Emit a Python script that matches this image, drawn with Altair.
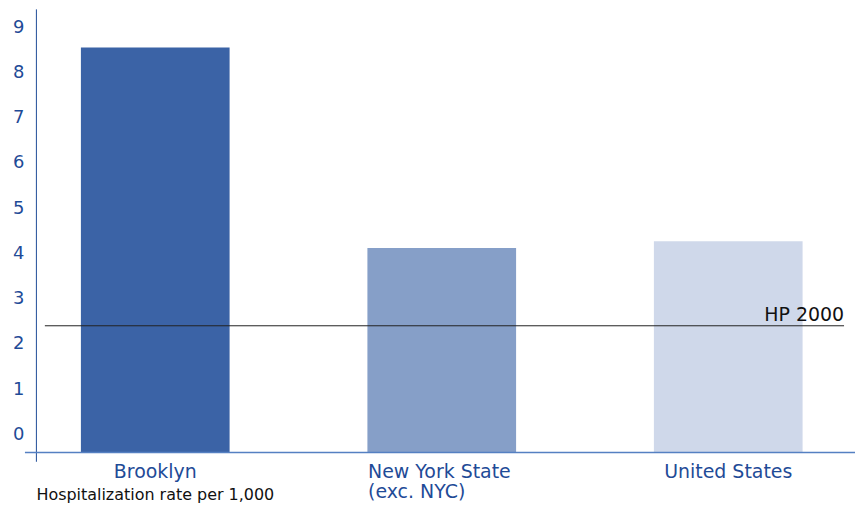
import altair as alt
import pandas as pd

categories = ["Brooklyn", "New York State (exc. NYC)", "United States"]
rates = [8.55, 4.12, 4.27]
bar_colors = ["#3b63a6", "#869fc8", "#cfd8ea"]
baseline = -0.4
hp_target = 2.4
hp_label = "HP 2000"
y_ticks = [0, 1, 2, 3, 4, 5, 6, 7, 8, 9]
axis_title = "Hospitalization rate per 1,000"

df = pd.DataFrame({"category": categories, "rate": rates, "base": [baseline] * len(categories)})
hp_df = pd.DataFrame({"label": [hp_label], "value": [hp_target]})

BLUE = "#1f4b97"
FONT = "DejaVu Sans"
W, H = 822, 454
NYS = "New York State (exc. NYC)"

x_enc = alt.X(
    "category:N",
    sort=categories,
    scale=alt.Scale(paddingInner=0.481, paddingOuter=0.17, align=0.462),
    axis=alt.Axis(
        title=None, domain=False, ticks=False, labelAngle=0,
        labelFont=FONT, labelFontSize=19, labelColor=BLUE,
        labelPadding=1, labelBaseline="top", labelLineHeight=20,
        labelAlign={"condition": {"test": f"datum.value == '{NYS}'", "value": "left"}, "value": "center"},
        labelOffset={"condition": {"test": f"datum.value == '{NYS}'", "value": -74}, "value": 0},
        labelExpr=f"datum.label == '{NYS}' ? ['New York State', '(exc. NYC)'] : datum.label",
    ),
)
y_scale = alt.Scale(domain=[-0.595, 9.405], nice=False, zero=False)

bars = alt.Chart(df).mark_bar().encode(
    x=x_enc,
    y=alt.Y(
        "rate:Q", scale=y_scale,
        axis=alt.Axis(
            values=y_ticks, grid=False, ticks=False, domainColor=BLUE, domainWidth=1,
            labelFont=FONT, labelFontSize=18, labelColor=BLUE, labelPadding=12,
            title=axis_title, titleAngle=0, titleAlign="left", titleBaseline="alphabetic",
            titleX=0, titleY=492, titleFont=FONT, titleFontSize=16, titleFontWeight="normal",
            titleColor="#111111",
        ),
    ),
    y2="base:Q",
    color=alt.Color("category:N", scale=alt.Scale(domain=categories, range=bar_colors), legend=None),
)

xline = alt.Chart(pd.DataFrame({"b": [baseline]})).mark_rule(color="#5580c2", strokeWidth=1.5).encode(
    y=alt.Y("b:Q", scale=y_scale), x=alt.value(-11), x2=alt.value(W)
)

hp_rule = alt.Chart(hp_df).mark_rule(color="#222222", strokeWidth=1).encode(
    y=alt.Y("value:Q", scale=y_scale), x=alt.value(9), x2=alt.value(811)
)
hp_text = alt.Chart(hp_df).mark_text(
    align="right", baseline="alphabetic", dy=-5, font=FONT, fontSize=19, color="#111111"
).encode(y=alt.Y("value:Q", scale=y_scale), x=alt.value(811), text="label:N")

chart = alt.layer(bars, xline, hp_rule, hp_text).properties(
    width=W, height=H,
    autosize=alt.AutoSizeParams(type="none"),
    padding={"left": 28, "top": 0, "right": 0, "bottom": 42},
).configure_view(stroke=None)

chart.save("out.html", embed_options={"renderer": "svg", "actions": False})
